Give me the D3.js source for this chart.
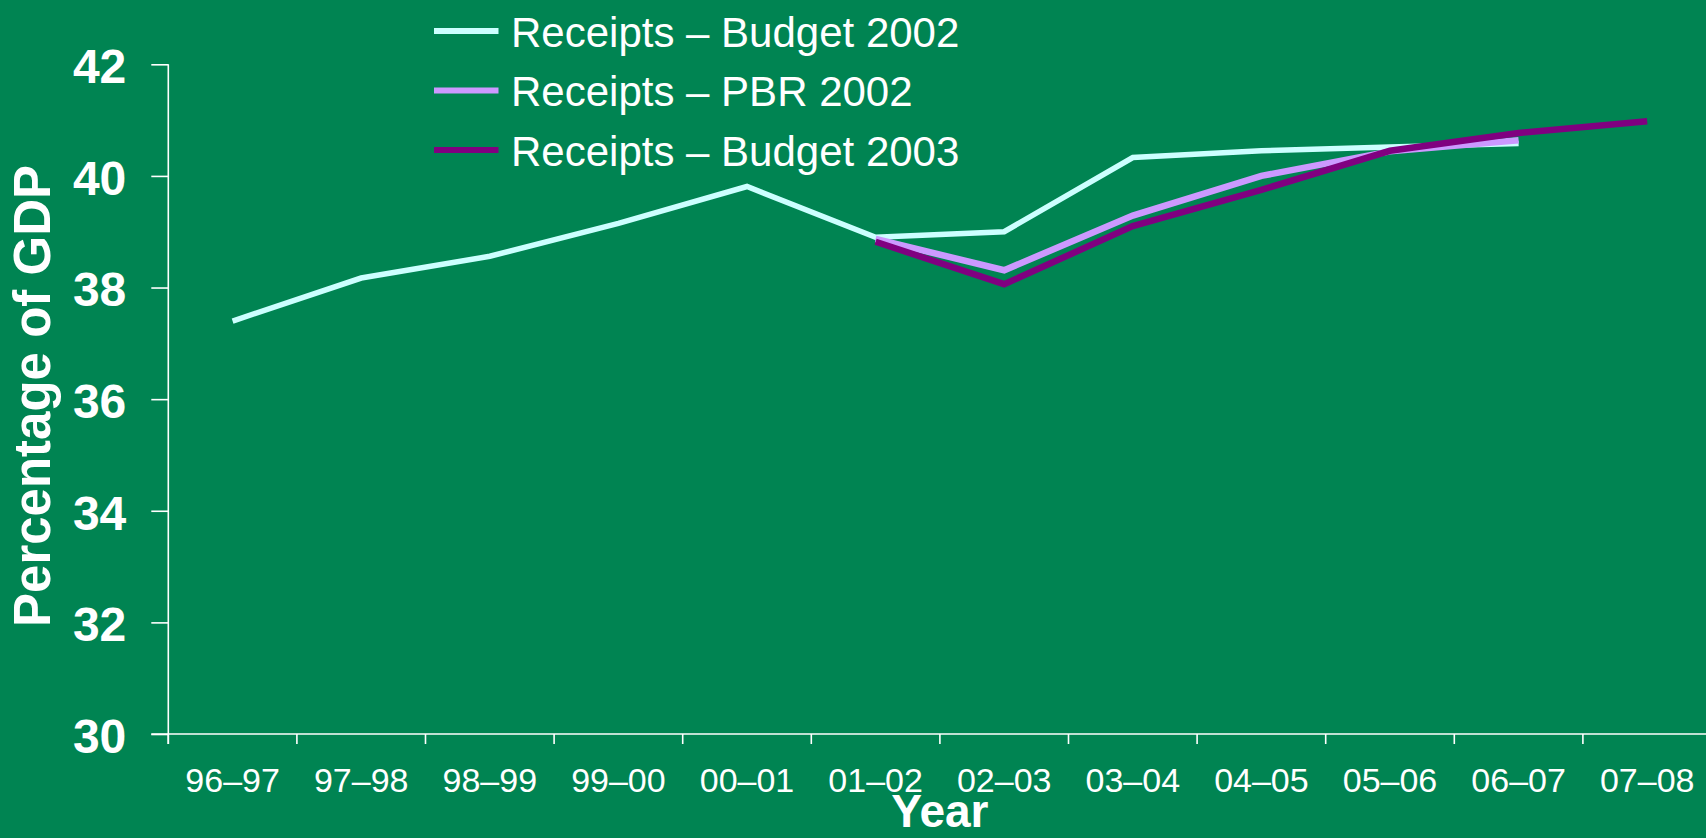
<!DOCTYPE html>
<html>
<head>
<meta charset="utf-8">
<script src="https://cdn.jsdelivr.net/npm/d3@7"></script>
<style>
  html, body { margin: 0; padding: 0; background: #008452; overflow: hidden; }
  svg { display: block; }
  text { font-family: "Liberation Sans", Arial, Helvetica, sans-serif; fill: #ffffff; }
</style>
</head>
<body>
<svg id="chart" width="1706" height="838"></svg>
<script>
// Financial years on the x axis
const years = ["96–97", "97–98", "98–99", "99–00", "00–01", "01–02",
               "02–03", "03–04", "04–05", "05–06", "06–07", "07–08"];

// Receipts as a percentage of GDP, one array per forecast
const budget2002Years = ["96–97", "97–98", "98–99", "99–00", "00–01", "01–02",
                         "02–03", "03–04", "04–05", "05–06", "06–07"];
const budget2002Values = [37.40, 38.17, 38.56, 39.15, 39.81, 38.90,
                          39.00, 40.33, 40.45, 40.52, 40.58];

const pbr2002Years = ["01–02", "02–03", "03–04", "04–05", "05–06", "06–07"];
const pbr2002Values = [38.87, 38.31, 39.29, 40.00, 40.44, 40.64];

const budget2003Years = ["01–02", "02–03", "03–04", "04–05", "05–06", "06–07", "07–08"];
const budget2003Values = [38.82, 38.06, 39.10, 39.75, 40.45, 40.77, 40.98];

const yTicks = [30, 32, 34, 36, 38, 40, 42];

const seriesNames = ["Receipts – Budget 2002", "Receipts – PBR 2002", "Receipts – Budget 2003"];
const seriesColors = ["#ccffff", "#cc99ff", "#800080"];
const seriesWidths = [5.5, 6.5, 6.5];

const series = [
  { name: seriesNames[0], years: budget2002Years, values: budget2002Values },
  { name: seriesNames[1], years: pbr2002Years, values: pbr2002Values },
  { name: seriesNames[2], years: budget2003Years, values: budget2003Values }
];

const svg = d3.select("#chart");
const W = 1706, H = 838;

const plotLeft = 168.3, bandW = 128.6;
const plotTop = 64.3, plotBottom = 734;

const x = d3.scaleBand().domain(years).range([plotLeft, plotLeft + bandW * years.length]).padding(0);
const y = d3.scaleLinear().domain([30, 42]).range([plotBottom, plotTop]);

const axisColor = "#ffffff";

// Y axis: ticks and labels
const yAxis = d3.axisLeft(y).tickValues(yTicks).tickSize(17).tickPadding(25).tickFormat(d3.format("d"));
const gy = svg.append("g").attr("transform", `translate(${plotLeft},0)`).call(yAxis);
gy.select(".domain").remove();
gy.selectAll(".tick line").attr("stroke", axisColor).attr("stroke-width", 1.6);
gy.selectAll(".tick text")
  .attr("fill", "#ffffff")
  .attr("font-size", 48)
  .attr("font-weight", "bold")
  .attr("dy", "0.38em");

// Vertical axis line, running down past the baseline like a tick
svg.append("line")
  .attr("x1", plotLeft).attr("x2", plotLeft)
  .attr("y1", y(42)).attr("y2", y(30) + 10)
  .attr("stroke", axisColor).attr("stroke-width", 1.6);

// X axis: labels centred in each band
const xAxis = d3.axisBottom(x).tickSize(0).tickPadding(34);
const gx = svg.append("g").attr("transform", `translate(0,${plotBottom})`).call(xAxis);
gx.select(".domain").remove();
gx.selectAll(".tick text")
  .attr("fill", "#ffffff")
  .attr("font-size", 34)
  .attr("dy", "0.71em");

// Horizontal axis line
svg.append("line")
  .attr("x1", plotLeft - 17).attr("x2", W)
  .attr("y1", y(30)).attr("y2", y(30))
  .attr("stroke", axisColor).attr("stroke-width", 1.6);

// Tick marks on the band boundaries
const boundaries = years.map(d => x(d)).concat([x(years[years.length - 1]) + x.bandwidth()]);
svg.append("g").selectAll("line").data(boundaries).join("line")
  .attr("x1", d => d).attr("x2", d => d)
  .attr("y1", y(30)).attr("y2", y(30) + 10)
  .attr("stroke", axisColor).attr("stroke-width", 1.6);

// Axis titles
svg.append("text")
  .attr("transform", `translate(50,396) rotate(-90)`)
  .attr("text-anchor", "middle")
  .attr("font-size", 51)
  .attr("font-weight", "bold")
  .text("Percentage of GDP");

svg.append("text")
  .attr("x", (x.range()[0] + x.range()[1]) / 2)
  .attr("y", 827)
  .attr("text-anchor", "middle")
  .attr("font-size", 46)
  .attr("font-weight", "bold")
  .text("Year");

// Lines
const line = d3.line()
  .x(d => x(d[0]) + x.bandwidth() / 2)
  .y(d => y(d[1]));

svg.append("g").selectAll("path").data(series).join("path")
  .attr("d", s => line(s.years.map((yr, i) => [yr, s.values[i]])))
  .attr("fill", "none")
  .attr("stroke", (s, i) => seriesColors[i])
  .attr("stroke-width", (s, i) => seriesWidths[i])
  .attr("stroke-linejoin", "miter")
  .attr("stroke-linecap", "butt");

// Legend
const legend = svg.append("g");
const rows = legend.selectAll("g").data(seriesNames).join("g")
  .attr("transform", (d, i) => `translate(434,${31 + i * 59.5})`);
rows.append("line")
  .attr("x1", 0).attr("x2", 64.5)
  .attr("y1", 0).attr("y2", 0)
  .attr("stroke", (d, i) => seriesColors[i])
  .attr("stroke-width", 6);
rows.append("text")
  .attr("x", 77)
  .attr("y", 15.5)
  .attr("font-size", 42)
  .text(d => d);
</script>
</body>
</html>
